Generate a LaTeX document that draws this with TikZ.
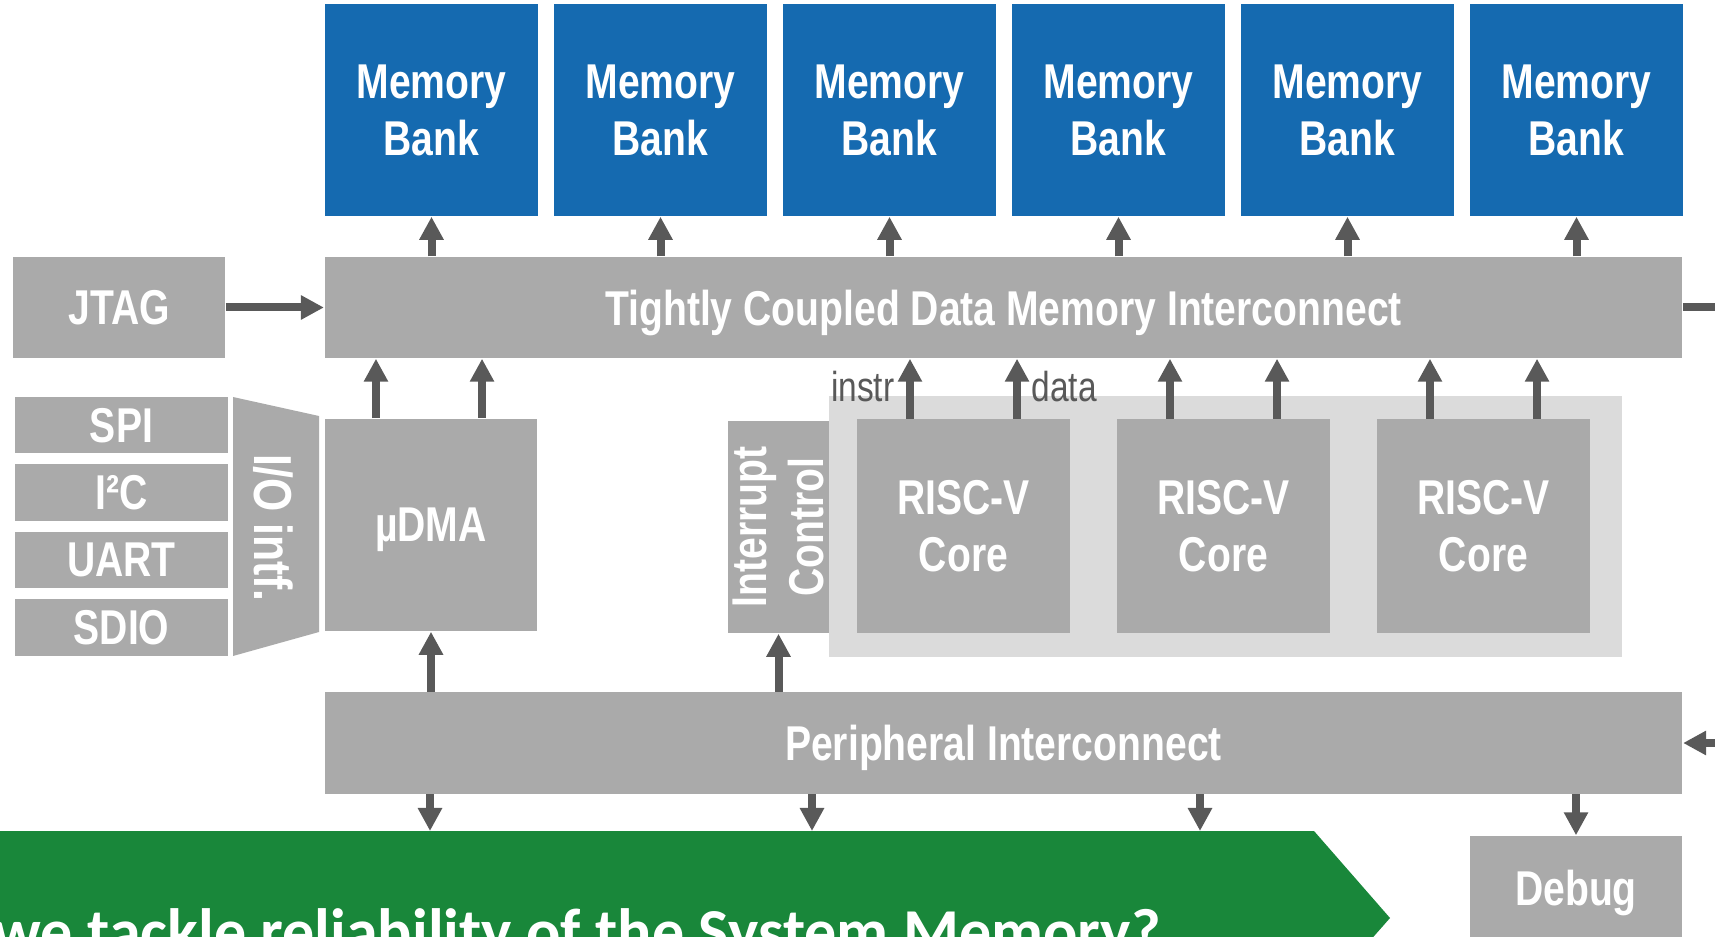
\documentclass[tikz,border=0pt]{standalone}
\usepackage{fontspec}
\setmainfont{Liberation Sans}[FakeStretch=0.8]
\newfontfamily\bannerfont{Carlito}
\usetikzlibrary{arrows.meta}
\definecolor{bankblue}{RGB}{21,106,176}
\definecolor{blockgray}{RGB}{170,170,170}
\definecolor{clustergray}{RGB}{219,219,219}
\definecolor{wiregray}{RGB}{89,89,89}
\definecolor{bannergreen}{RGB}{25,135,58}

\begin{document}
\begin{tikzpicture}[x=0.01cm, y=-0.01cm,
  block/.style={fill=blockgray, text=white, inner sep=0pt, align=center, text depth=0pt,
    font=\bfseries\fontsize{13.9}{16.2}\selectfont},
  membank/.style={block, fill=bankblue, minimum width=2.13cm, minimum height=2.12cm},
  riscv/.style={block, minimum width=2.13cm, minimum height=2.13cm},
  ioport/.style={block, minimum width=2.13cm, minimum height=0.56cm},
  xbar/.style={block, minimum width=13.57cm, minimum height=1.01cm},
  wire/.style={draw=wiregray, line width=0.08cm, -{Triangle[length=0.23cm, width=0.23cm]}},
  wirename/.style={text=wiregray, inner sep=0pt, font=\fontsize{11.9}{14}\selectfont}]
  \useasboundingbox (0,0) rectangle (1715,937);
  \clip (0,0) rectangle (1715,937);

  \foreach \i in {0,...,5}
    \node[membank] (bank\i) at (431.5+229*\i,110) {Memory\\Bank};
  \node[xbar] (tcdm) at (1003.5,307.5) {Tightly Coupled Data Memory Interconnect};
  \node[block, minimum width=2.12cm, minimum height=1.01cm] (jtag) at (119,307.5) {JTAG};

  \foreach \name/\y [count=\k] in {SPI/425, I²C/492.5, UART/560, SDIO/627.5}
    \node[ioport] (port\k) at (121.5,\y) {\name};
  \fill[blockgray] (233,397) -- (319,416) -- (319,632) -- (233,656) -- cycle;
  \node[block, fill=none, rotate=-90, font=\bfseries\fontsize{15.2}{18}\selectfont] (iointf) at (274,528) {I/O intf.};
  \node[block, minimum width=2.12cm, minimum height=2.12cm] (udma) at (431,525) {µDMA};

  \node[block, rotate=90, minimum width=2.12cm, minimum height=1.01cm] (irq) at (778.5,527) {Interrupt\\Control};
  \fill[clustergray] (829,396) rectangle (1622,657);
  \foreach \i in {0,1,2}
    \node[riscv] (core\i) at (963.5+260*\i,526) {RISC-V\\Core};

  \node[xbar] (periph) at (1003.5,743) {Peripheral Interconnect};
  \node[block, minimum width=2.12cm, minimum height=1.04cm] (debug) at (1576,888) {Debug};

  \fill[bannergreen] (0,831) -- (1314,831) -- (1390,918) -- (1353,960) -- (0,960) -- cycle;
  \node[anchor=base west, text=white, inner sep=0pt, font=\bannerfont\bfseries\fontsize{18.2}{20}\selectfont] (question) at (-7,953) {we tackle reliability of the System Memory?};

  \foreach \i in {0,...,5}
    \draw[wire] (tcdm.north -| bank\i.south) -- (bank\i.south);
  \draw[wire] (jtag.east) -- (jtag.east -| tcdm.west);
  \coordinate (tcdmout) at (1715,307.5);
  \draw[draw=wiregray, line width=0.08cm] (tcdm.east) -- (tcdmout);

  \path ([xshift=-5.5mm]udma.north) coordinate (udmaA) ([xshift=5.1mm]udma.north) coordinate (udmaB);
  \draw[wire] (udmaA) -- (udmaA |- tcdm.south);
  \draw[wire] (udmaB) -- (udmaB |- tcdm.south);
  \foreach \i in {0,1,2} {
    \path ([xshift=-5.35mm]core\i.north) coordinate (instr\i) ([xshift=5.35mm]core\i.north) coordinate (data\i);
    \draw[wire] (instr\i) -- (instr\i |- tcdm.south);
    \draw[wire] (data\i) -- (data\i |- tcdm.south);
  }
  \node[wirename, anchor=base east] (instrname) at (895,402) {instr};
  \node[wirename, anchor=base west] (dataname) at (1031,402) {data};

  \draw[wire] (periph.north -| udma.south) -- (udma.south);
  \draw[wire] (periph.north -| irq.west) -- (irq.west);
  \coordinate (drop1) at (430,831);
  \coordinate (drop2) at (812,831);
  \coordinate (drop3) at (1200,831);
  \foreach \c in {drop1,drop2,drop3}
    \draw[wire] (periph.south -| \c) -- (\c);
  \draw[wire] (periph.south -| debug.north) -- (debug.north);
  \coordinate (periphin) at (1715,743);
  \draw[wire] (periphin) -- (periph.east);
\end{tikzpicture}
\end{document}
